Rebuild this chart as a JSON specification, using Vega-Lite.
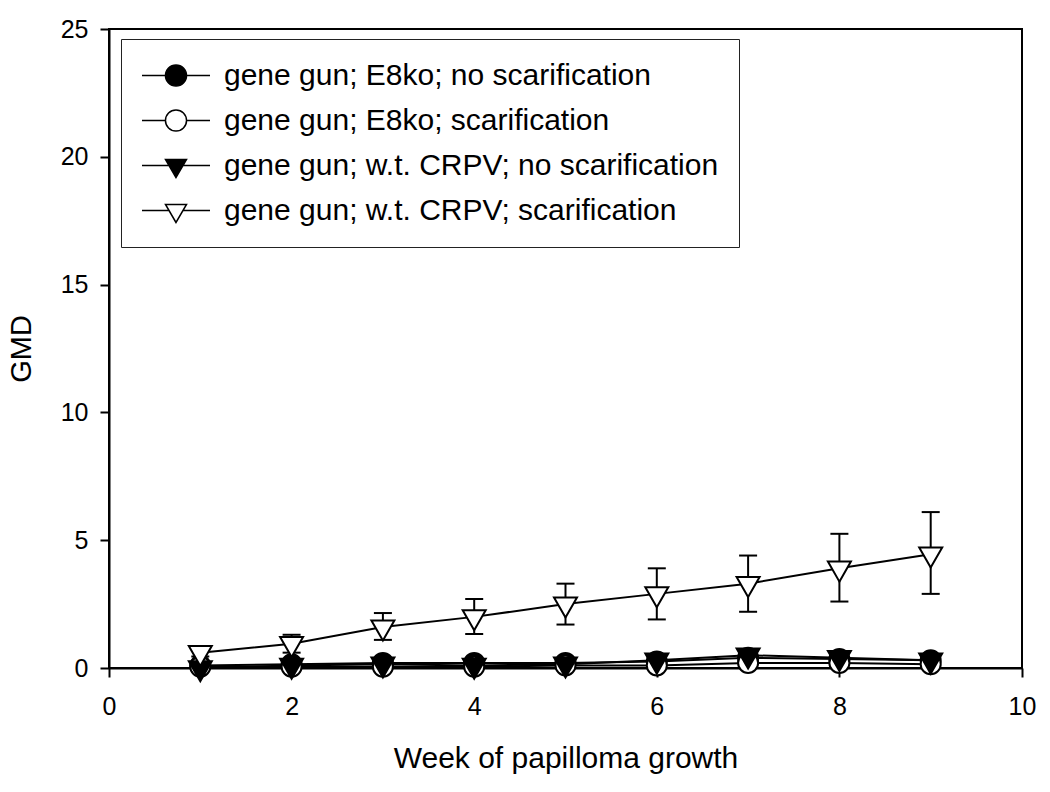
{
  "$schema": "https://vega.github.io/schema/vega-lite/v6.json",
  "width": 913,
  "height": 639,
  "autosize": {"type": "none"},
  "padding": {"left": 109, "top": 29, "right": 28, "bottom": 124},
  "background": "white",
  "config": {
    "font": "Liberation Sans",
    "view": {"stroke": "black", "strokeWidth": 2},
    "axis": {
      "grid": false,
      "labelFlush": false,
      "labelOverlap": false,
      "domainColor": "black",
      "domainWidth": 2,
      "tickColor": "black",
      "tickWidth": 2,
      "tickSize": 9,
      "labelFont": "Liberation Sans",
      "labelFontSize": 25,
      "labelColor": "black",
      "titleFont": "Liberation Sans",
      "titleFontSize": 30,
      "titleFontWeight": "normal",
      "titleColor": "black"
    }
  },
  "data": {
    "values": [
      {"series": "gene gun; E8ko; no scarification", "week": 1, "gmd": 0.1},
      {"series": "gene gun; E8ko; no scarification", "week": 2, "gmd": 0.15},
      {"series": "gene gun; E8ko; no scarification", "week": 3, "gmd": 0.2},
      {"series": "gene gun; E8ko; no scarification", "week": 4, "gmd": 0.2},
      {"series": "gene gun; E8ko; no scarification", "week": 5, "gmd": 0.2},
      {"series": "gene gun; E8ko; no scarification", "week": 6, "gmd": 0.25},
      {"series": "gene gun; E8ko; no scarification", "week": 7, "gmd": 0.4},
      {"series": "gene gun; E8ko; no scarification", "week": 8, "gmd": 0.35},
      {"series": "gene gun; E8ko; no scarification", "week": 9, "gmd": 0.3},
      {"series": "gene gun; E8ko; scarification", "week": 1, "gmd": 0.05},
      {"series": "gene gun; E8ko; scarification", "week": 2, "gmd": 0.05},
      {"series": "gene gun; E8ko; scarification", "week": 3, "gmd": 0.05},
      {"series": "gene gun; E8ko; scarification", "week": 4, "gmd": 0.05},
      {"series": "gene gun; E8ko; scarification", "week": 5, "gmd": 0.1},
      {"series": "gene gun; E8ko; scarification", "week": 6, "gmd": 0.1},
      {"series": "gene gun; E8ko; scarification", "week": 7, "gmd": 0.2},
      {"series": "gene gun; E8ko; scarification", "week": 8, "gmd": 0.2},
      {"series": "gene gun; E8ko; scarification", "week": 9, "gmd": 0.15},
      {"series": "gene gun; w.t. CRPV; no scarification", "week": 1, "gmd": 0.0},
      {"series": "gene gun; w.t. CRPV; no scarification", "week": 2, "gmd": 0.1},
      {"series": "gene gun; w.t. CRPV; no scarification", "week": 3, "gmd": 0.15},
      {"series": "gene gun; w.t. CRPV; no scarification", "week": 4, "gmd": 0.1},
      {"series": "gene gun; w.t. CRPV; no scarification", "week": 5, "gmd": 0.15},
      {"series": "gene gun; w.t. CRPV; no scarification", "week": 6, "gmd": 0.3},
      {"series": "gene gun; w.t. CRPV; no scarification", "week": 7, "gmd": 0.5},
      {"series": "gene gun; w.t. CRPV; no scarification", "week": 8, "gmd": 0.4},
      {"series": "gene gun; w.t. CRPV; no scarification", "week": 9, "gmd": 0.3},
      {"series": "gene gun; w.t. CRPV; scarification", "week": 1, "gmd": 0.6, "lo": 0.45, "hi": 0.75},
      {"series": "gene gun; w.t. CRPV; scarification", "week": 2, "gmd": 0.95, "lo": 0.6, "hi": 1.3},
      {"series": "gene gun; w.t. CRPV; scarification", "week": 3, "gmd": 1.6, "lo": 1.1, "hi": 2.15},
      {"series": "gene gun; w.t. CRPV; scarification", "week": 4, "gmd": 2.0, "lo": 1.33, "hi": 2.7},
      {"series": "gene gun; w.t. CRPV; scarification", "week": 5, "gmd": 2.5, "lo": 1.7, "hi": 3.3},
      {"series": "gene gun; w.t. CRPV; scarification", "week": 6, "gmd": 2.9, "lo": 1.9, "hi": 3.9},
      {"series": "gene gun; w.t. CRPV; scarification", "week": 7, "gmd": 3.3, "lo": 2.2, "hi": 4.4},
      {"series": "gene gun; w.t. CRPV; scarification", "week": 8, "gmd": 3.9, "lo": 2.6, "hi": 5.25},
      {"series": "gene gun; w.t. CRPV; scarification", "week": 9, "gmd": 4.45, "lo": 2.9, "hi": 6.1}
    ]
  },
  "encoding": {
    "x": {
      "field": "week",
      "type": "quantitative",
      "scale": {"domain": [0, 10], "nice": false, "zero": false},
      "axis": {
        "title": "Week of papilloma growth",
        "values": [0, 2, 4, 6, 8, 10],
        "labelPadding": 17,
        "titleBaseline": "alphabetic",
        "titleY": 99
      }
    },
    "y": {
      "field": "gmd",
      "type": "quantitative",
      "title": "GMD",
      "scale": {"domain": [0, 25], "nice": false},
      "axis": {
        "title": "GMD",
        "values": [0, 5, 10, 15, 20, 25],
        "labelPadding": 12,
        "titleBaseline": "alphabetic",
        "titleX": -79,
        "titleY": 319.5,
        "titleAngle": -90,
        "titleFontSize": 29
      }
    }
  },
  "layer": [
    {
      "transform": [{"filter": "isValid(datum.lo)"}],
      "mark": {"type": "rule", "stroke": "black", "strokeWidth": 2},
      "encoding": {
        "y": {"field": "lo", "type": "quantitative", "title": "GMD"},
        "y2": {"field": "hi"}
      }
    },
    {
      "transform": [{"filter": "isValid(datum.lo)"}],
      "mark": {"type": "tick", "orient": "horizontal", "size": 18, "thickness": 2, "color": "black", "opacity": 1},
      "encoding": {
        "y": {"field": "lo", "type": "quantitative", "title": "GMD"}
      }
    },
    {
      "transform": [{"filter": "isValid(datum.hi)"}],
      "mark": {"type": "tick", "orient": "horizontal", "size": 18, "thickness": 2, "color": "black", "opacity": 1},
      "encoding": {
        "y": {"field": "hi", "type": "quantitative", "title": "GMD"}
      }
    },
    {
      "mark": {"type": "line", "stroke": "black", "strokeWidth": 2},
      "encoding": {
        "detail": {"field": "series", "type": "nominal"},
        "order": {"field": "week", "type": "quantitative"}
      }
    },
    {
      "transform": [{"filter": "datum.series == 'gene gun; E8ko; no scarification'"}],
      "mark": {"type": "point", "shape": "M0.91,0A0.91,0.91 0 1,1 -0.91,0A0.91,0.91 0 1,1 0.91,0Z", "fill": "black", "stroke": "black", "strokeWidth": 2, "opacity": 1, "fillOpacity": 1, "size": 484},
      "encoding": {}
    },
    {
      "transform": [{"filter": "datum.series == 'gene gun; E8ko; scarification'"}],
      "mark": {"type": "point", "shape": "M0.91,0A0.91,0.91 0 1,1 -0.91,0A0.91,0.91 0 1,1 0.91,0Z", "fill": "white", "stroke": "black", "strokeWidth": 2, "opacity": 1, "fillOpacity": 1, "size": 484},
      "encoding": {}
    },
    {
      "transform": [{"filter": "datum.series == 'gene gun; w.t. CRPV; no scarification'"}],
      "mark": {"type": "point", "shape": "M0,1.21L-1.045,-0.61L1.045,-0.61Z", "fill": "black", "stroke": "black", "strokeWidth": 2, "opacity": 1, "fillOpacity": 1, "size": 484},
      "encoding": {}
    },
    {
      "transform": [{"filter": "datum.series == 'gene gun; w.t. CRPV; scarification'"}],
      "mark": {"type": "point", "shape": "M0,1.21L-1.045,-0.61L1.045,-0.61Z", "fill": "white", "stroke": "black", "strokeWidth": 2, "opacity": 1, "fillOpacity": 1, "size": 484},
      "encoding": {}
    },
    {
      "transform": [{"filter": "false"}],
      "mark": {"type": "point", "stroke": "black", "strokeWidth": 1.5, "opacity": 1, "fillOpacity": 1, "strokeOpacity": 1},
      "encoding": {
        "shape": {
          "field": "series",
          "type": "nominal",
          "title": null,
          "scale": {
            "domain": ["gene gun; E8ko; no scarification", "gene gun; E8ko; scarification", "gene gun; w.t. CRPV; no scarification", "gene gun; w.t. CRPV; scarification"],
            "range": [
              "M-1,0L-0.31,0M0.31,0L1,0M0.31,0A0.31,0.31 0 1,1 -0.31,0A0.31,0.31 0 1,1 0.31,0Z",
              "M-1,0L-0.31,0M0.31,0L1,0M0.31,0A0.31,0.31 0 1,1 -0.31,0A0.31,0.31 0 1,1 0.31,0Z",
              "M-1,0L-0.206,0M0.206,0L1,0M0,0.353L-0.309,-0.177L0.309,-0.177Z",
              "M-1,0L-0.206,0M0.206,0L1,0M0,0.353L-0.309,-0.177L0.309,-0.177Z"
            ]
          },
          "legend": {
            "orient": "none",
            "legendX": 12,
            "legendY": 10,
            "title": null,
            "symbolSize": 4624,
            "clipHeight": 33,
            "labelFont": "Liberation Sans",
            "labelFontSize": 30,
            "labelColor": "black",
            "labelLimit": 1000,
            "labelOffset": 13,
            "rowPadding": 12,
            "padding": 20,
            "strokeColor": "#222222",
            "fillColor": "white",
            "encode": {
              "legend": {"update": {"strokeWidth": {"value": 1.5}}},
              "symbols": {
                "update": {
                  "stroke": {"value": "black"},
                  "strokeWidth": {"value": 1.5},
                  "opacity": {"value": 1}
                }
              }
            }
          }
        },
        "fill": {
          "field": "series",
          "type": "nominal",
          "title": null,
          "scale": {
            "domain": ["gene gun; E8ko; no scarification", "gene gun; E8ko; scarification", "gene gun; w.t. CRPV; no scarification", "gene gun; w.t. CRPV; scarification"],
            "range": ["black", "white", "black", "white"]
          }
        }
      }
    }
  ]
}
